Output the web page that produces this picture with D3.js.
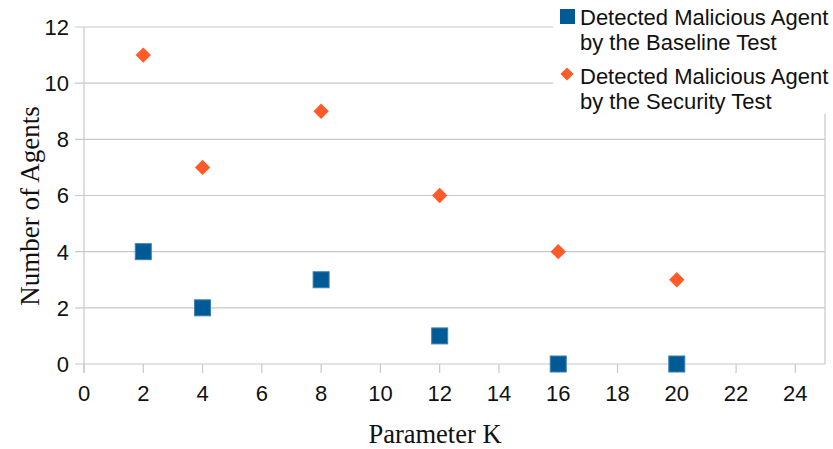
<!DOCTYPE html>
<html><head><meta charset="utf-8">
<script src="https://cdn.jsdelivr.net/npm/d3@7"></script>
<style>body{margin:0;background:#fff}</style>
</head><body>
<svg id="c" width="833" height="449"></svg>
<script>
const kValues = [2, 4, 8, 12, 16, 20];
const baselineValues = [4, 2, 3, 1, 0, 0];
const securityValues = [11, 7, 9, 6, 4, 3];
const xTicks = [0,2,4,6,8,10,12,14,16,18,20,22,24];
const yTicks = [0,2,4,6,8,10,12];
const seriesNames = [["Detected Malicious Agent","by the Baseline Test"],["Detected Malicious Agent","by the Security Test"]];

const svg = d3.select("#c");
const L = 84, R = 825, T = 27, B = 364;
const x = d3.scaleLinear().domain([0,25]).range([L,R]);
const y = d3.scaleLinear().domain([0,12]).range([B,T]);
const grid = "#c8c8c8";

svg.append("g").selectAll("line").data(yTicks).join("line")
  .attr("x1", L-9).attr("x2", R).attr("y1", d=>y(d)).attr("y2", d=>y(d))
  .attr("stroke", grid).attr("stroke-width", 1.2);
svg.append("line").attr("x1",R).attr("x2",R).attr("y1",T).attr("y2",B).attr("stroke",grid).attr("stroke-width",1.2);
svg.append("line").attr("x1",L).attr("x2",L).attr("y1",T).attr("y2",B+9).attr("stroke",grid).attr("stroke-width",1.2);
svg.append("g").selectAll("line").data(xTicks).join("line")
  .attr("x1", d=>x(d)).attr("x2", d=>x(d)).attr("y1", B).attr("y2", B+9)
  .attr("stroke", grid).attr("stroke-width", 1.2);

const font = "'Liberation Sans', Arial, sans-serif";
svg.append("g").selectAll("text").data(yTicks).join("text")
  .attr("x", L-15).attr("y", d=>y(d)).attr("dy","0.36em").attr("text-anchor","end")
  .attr("font-family", font).attr("font-size", 22).attr("fill","#111").text(d=>d);
svg.append("g").selectAll("text").data(xTicks).join("text")
  .attr("x", d=>x(d)).attr("y", 393).attr("dy","0.36em").attr("text-anchor","middle")
  .attr("font-family", font).attr("font-size", 22).attr("fill","#111").text(d=>d);

const serif = "'Liberation Serif', 'Times New Roman', serif";
svg.append("text").attr("transform","translate(39,206) rotate(-90)").attr("text-anchor","middle")
  .attr("font-family",serif).attr("font-size",27).attr("fill","#111")
  .text("Number of Agents");
svg.append("text").attr("x",435).attr("y",443).attr("text-anchor","middle")
  .attr("font-family",serif).attr("font-size",26.5).attr("fill","#111")
  .text("Parameter K");

const blue = "#005a96", orange = "#ff5a28";
const base = kValues.map((k,i)=>({k, v: baselineValues[i]}));
const sec = kValues.map((k,i)=>({k, v: securityValues[i]}));
const sq = 16;
svg.append("g").selectAll("rect").data(base).join("rect")
  .attr("x", d=>x(d.k)-sq/2).attr("y", d=>y(d.v)-sq/2).attr("width", sq).attr("height", sq)
  .attr("fill", blue).attr("stroke","#3f7fb0").attr("stroke-width",1);
const diamond = d3.symbol().type(d3.symbolDiamond2).size(150);
svg.append("g").selectAll("path").data(sec).join("path")
  .attr("transform", d=>`translate(${x(d.k)},${y(d.v)})`).attr("d", diamond).attr("fill", orange);

const lg = svg.append("g");
lg.append("rect").attr("x",553).attr("y",0).attr("width",280).attr("height",114).attr("fill","#fff");
lg.append("rect").attr("x",560).attr("y",9).attr("width",15).attr("height",15).attr("fill",blue);
lg.append("path").attr("transform","translate(567,74)").attr("d", d3.symbol().type(d3.symbolDiamond2).size(110)).attr("fill",orange);
seriesNames.forEach((lines, i) => {
  lines.forEach((t, j) => {
    lg.append("text").attr("x",580).attr("y", 17 + i*59 + j*25).attr("dy","0.36em")
      .attr("font-family", font).attr("font-size", 22).attr("fill","#111").text(t);
  });
});
</script>
</body></html>
